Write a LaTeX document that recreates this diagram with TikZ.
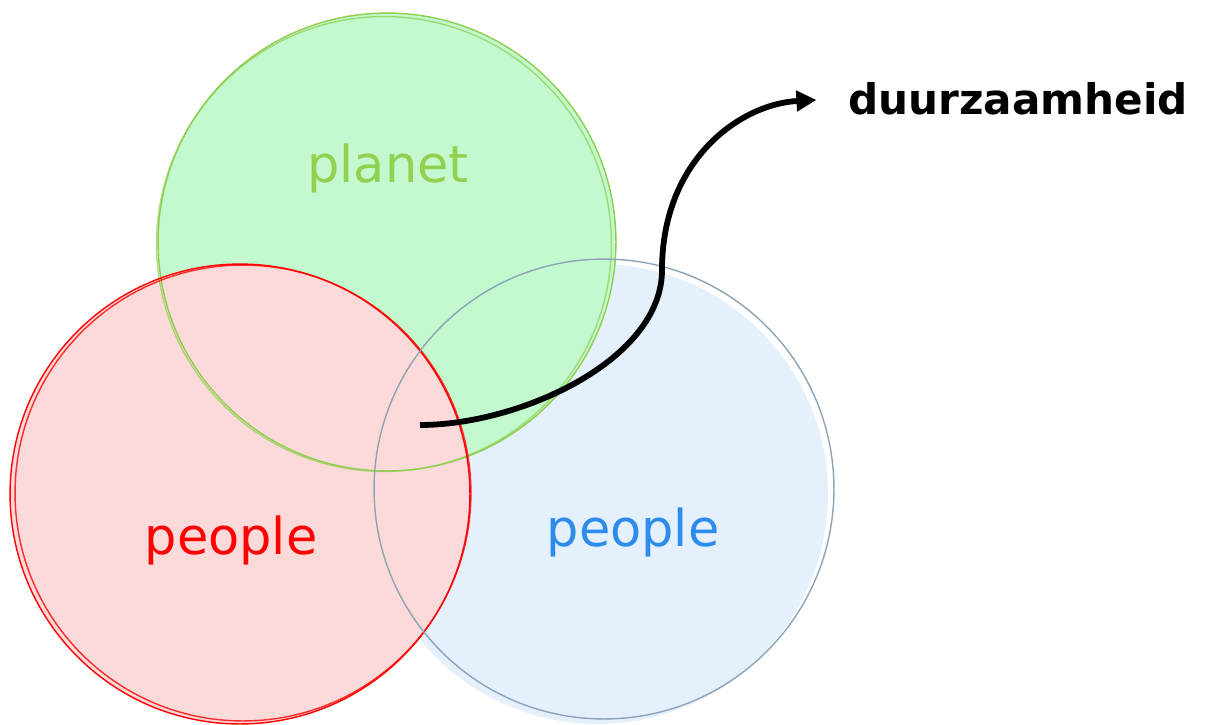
\documentclass[tikz,border=0pt]{standalone}
\usepackage{fontspec}
\setmainfont{DejaVu Sans}
\usetikzlibrary{arrows.meta}

\definecolor{planetfill}{HTML}{C2F9CE}
\definecolor{planetline}{HTML}{8FCE4F}
\definecolor{planettext}{HTML}{92D050}
\definecolor{redfill}{HTML}{FDDADA}
\definecolor{redline}{HTML}{FF0000}
\definecolor{bluefill}{HTML}{E5F0FD}
\definecolor{blueline}{HTML}{8FA3B7}
\definecolor{bluetext}{HTML}{2D8CEB}

\begin{document}
\begin{tikzpicture}
		[x=0.02cm,y=-0.02cm,
		 label/.style={font=\fontsize{29}{29}\selectfont,anchor=base,inner sep=0pt},
		 sketch/.style={line width=0.8pt}] % pixel-like coordinates: origin top left, y goes down
		
		\useasboundingbox (0,0) rectangle (1209,724);
		
		% fills first: blue at the bottom, red on top
		\fill [bluefill] (598,494) circle (4.6cm);
		\fill [planetfill] (387,242) circle (4.58cm);
		\fill [planetfill!96!white] (265,185) rectangle (490,255);
		\fill [redfill] (240,494) circle (4.6cm);
		
		% outlines, drawn twice for the sketchy look
		\draw [sketch,planetline] (387,242) circle (4.58cm);
		\draw [sketch,planetline,opacity=.7] (384,244) circle (4.55cm);
		\draw [sketch,redline] (240,494) circle (4.6cm);
		\draw [sketch,redline,opacity=.8] (243,493) circle (4.56cm);
		\draw [sketch,blueline] (604,489) circle (4.6cm);
		
		% labels
		\node [label,text=planettext] (planet) at (388,182) {planet};
		\node [label,text=redline] (people1) at (231,554) {people};
		\node [label,text=bluetext] (people2) at (633,546) {people};
		\node [anchor=base west,inner sep=0pt,font=\fontsize{24}{24}\selectfont\bfseries] (dz) at (848,114) {duurzaamheid};
		
		\coordinate (start) at (420,425);
		\draw [line width=3.3pt,-{Triangle[length=4mm,width=4mm]},shorten >=18pt] (start) .. controls (520,425) and (662,360) .. (662,270) .. controls (662,160) and (740,104) .. (dz.west);
		
\end{tikzpicture}
\end{document}
